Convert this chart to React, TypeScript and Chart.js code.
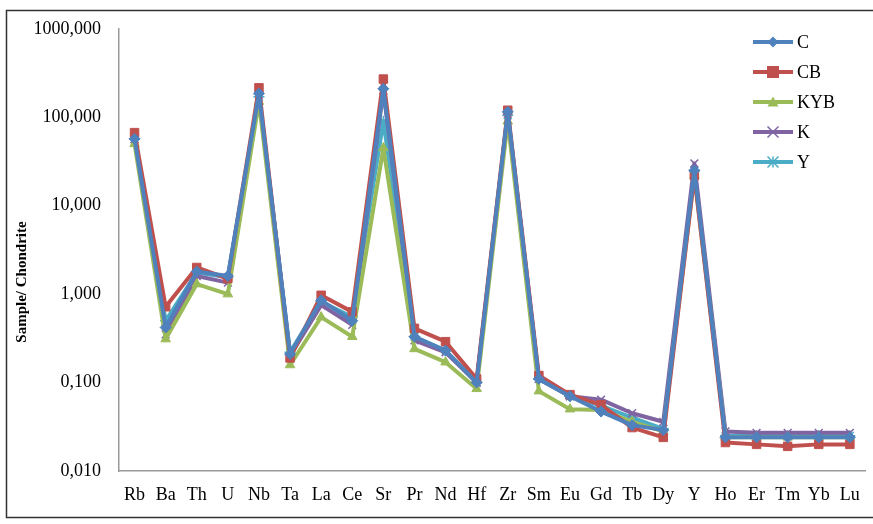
import React, { useEffect, useRef } from "react";
import { Chart, registerables } from "chart.js";

Chart.register(...registerables);

const categories = ["Rb","Ba","Th","U","Nb","Ta","La","Ce","Sr","Pr","Nd","Hf","Zr","Sm","Eu","Gd","Tb","Dy","Y","Ho","Er","Tm","Yb","Lu"];

const seriesC   = [57, 0.42, 1.8, 1.6, 185, 0.21, 0.85, 0.5, 210, 0.33, 0.23, 0.1, 115, 0.11, 0.07, 0.047, 0.033, 0.029, 25, 0.024, 0.024, 0.024, 0.024, 0.024];
const seriesCB  = [67, 0.72, 2.0, 1.5, 215, 0.19, 0.97, 0.63, 270, 0.41, 0.29, 0.11, 120, 0.12, 0.073, 0.056, 0.031, 0.024, 22, 0.021, 0.02, 0.019, 0.02, 0.02];
const seriesKYB = [50, 0.31, 1.3, 1.0, 150, 0.158, 0.55, 0.33, 45, 0.24, 0.17, 0.085, 90, 0.08, 0.05, 0.049, 0.036, 0.028, 22, 0.024, 0.024, 0.024, 0.024, 0.024];
const seriesK   = [56, 0.35, 1.6, 1.35, 180, 0.2, 0.75, 0.45, 200, 0.3, 0.22, 0.1, 110, 0.11, 0.07, 0.064, 0.045, 0.036, 30, 0.028, 0.027, 0.027, 0.027, 0.027];
const seriesY   = [57, 0.5, 1.75, 1.55, 170, 0.22, 0.82, 0.55, 90, 0.33, 0.23, 0.1, 105, 0.11, 0.07, 0.055, 0.04, 0.03, 25, 0.025, 0.025, 0.025, 0.025, 0.025];

const yTicks = [0.01, 0.1, 1, 10, 100, 1000];

const seriesNames = ["C", "CB", "KYB", "K", "Y"];
const seriesColors = ["#4F81BD", "#C0504D", "#9BBB59", "#8064A2", "#4BACC6"];
const seriesStyles = ["rectRot", "rect", "triangle", "crossRot", "star"];
const seriesData = [seriesC, seriesCB, seriesKYB, seriesK, seriesY];

const yTitle = "Sample/ Chondrite";

const FONT = "'Liberation Serif', 'Times New Roman', serif";

function fmt(v: number): string {
  return v.toFixed(3).replace(".", ",");
}

function drawMarker(ctx: CanvasRenderingContext2D, style: string, x: number, y: number, r: number, color: string) {
  ctx.save();
  ctx.fillStyle = color;
  ctx.strokeStyle = color;
  ctx.lineWidth = 1.5;
  ctx.beginPath();
  if (style === "rectRot") {
    ctx.moveTo(x, y - r); ctx.lineTo(x + r, y); ctx.lineTo(x, y + r); ctx.lineTo(x - r, y); ctx.closePath(); ctx.fill();
  } else if (style === "rect") {
    ctx.rect(x - r, y - r, 2 * r, 2 * r); ctx.fill();
  } else if (style === "triangle") {
    ctx.moveTo(x, y - r); ctx.lineTo(x + r, y + r * 0.8); ctx.lineTo(x - r, y + r * 0.8); ctx.closePath(); ctx.fill();
  } else if (style === "crossRot") {
    ctx.moveTo(x - r, y - r); ctx.lineTo(x + r, y + r); ctx.moveTo(x + r, y - r); ctx.lineTo(x - r, y + r); ctx.stroke();
  } else if (style === "star") {
    ctx.moveTo(x - r, y - r); ctx.lineTo(x + r, y + r); ctx.moveTo(x + r, y - r); ctx.lineTo(x - r, y + r);
    ctx.moveTo(x, y - r); ctx.lineTo(x, y + r); ctx.stroke();
  }
  ctx.restore();
}

const framePlugin = {
  id: "frame",
  beforeDraw(chart: any) {
    const ctx = chart.ctx;
    ctx.save();
    ctx.fillStyle = "#ffffff";
    ctx.fillRect(0, 0, chart.width, chart.height);
    ctx.strokeStyle = "#333333";
    ctx.lineWidth = 1.5;
    ctx.strokeRect(6.5, 10.5, 900, 507);
    ctx.translate(22, 282);
    ctx.rotate(-Math.PI / 2);
    ctx.fillStyle = "#000";
    ctx.font = `bold 15px ${FONT}`;
    ctx.textAlign = "center";
    ctx.textBaseline = "middle";
    ctx.fillText(yTitle, 0, 0);
    ctx.restore();
  },
  afterDraw(chart: any) {
    const ctx = chart.ctx;
    ctx.save();
    const x0 = 753, x1 = 793;
    const ys = [42, 72, 102, 132, 162];
    for (let i = 0; i < seriesNames.length; i++) {
      const y = ys[i];
      ctx.strokeStyle = seriesColors[i];
      ctx.lineWidth = 4;
      ctx.beginPath();
      ctx.moveTo(x0, y); ctx.lineTo(x1, y); ctx.stroke();
      drawMarker(ctx, seriesStyles[i], (x0 + x1) / 2, y, i === 1 ? 6 : 5.5, seriesColors[i]);
      ctx.fillStyle = "#000";
      ctx.font = `18px ${FONT}`;
      ctx.textAlign = "left";
      ctx.textBaseline = "middle";
      ctx.fillText(seriesNames[i], 797, y + 1);
    }
    ctx.restore();
  },
};

export default function App() {
  const ref = useRef<HTMLCanvasElement | null>(null);
  useEffect(() => {
    document.body.style.margin = "0";
    const canvas = ref.current!;
    const chart = new Chart(canvas, {
      type: "line",
      data: {
        labels: categories,
        datasets: seriesData.map((d, i) => ({
          label: seriesNames[i],
          data: d,
          borderColor: seriesColors[i],
          backgroundColor: seriesColors[i],
          borderWidth: 4,
          borderJoinStyle: "round",
          borderCapStyle: "round",
          pointStyle: seriesStyles[i] as any,
          pointRadius: i === 1 ? 6 : 5.5,
          pointBorderWidth: i >= 3 ? 1.5 : 1,
          pointBorderColor: seriesColors[i],
          pointBackgroundColor: seriesColors[i],
          tension: 0,
          fill: false,
        })),
      },
      options: {
        responsive: false,
        animation: false,
        layout: { padding: { top: 28, right: 2, left: 0, bottom: 0 } },
        plugins: { legend: { display: false }, tooltip: { enabled: false } },
        scales: {
          x: {
            type: "category",
            offset: true,
            grid: { display: false, drawTicks: false },
            border: { display: true, color: "#999999", width: 1.5 },
            ticks: { color: "#000", font: { family: FONT, size: 18 }, padding: 13, maxRotation: 0, autoSkip: false },
            afterFit(scale: any) { scale.height = 53; },
          },
          y: {
            type: "logarithmic",
            min: 0.01,
            max: 1000,
            grid: { display: false, drawTicks: false },
            border: { display: true, color: "#999999", width: 1.5 },
            afterBuildTicks(scale: any) { scale.ticks = yTicks.map((v) => ({ value: v })); },
            ticks: {
              color: "#000",
              font: { family: FONT, size: 18 },
              padding: 18,
              callback: (v: any) => fmt(Number(v)),
            },
            afterFit(scale: any) { scale.width = 119; },
          },
        },
      },
      plugins: [framePlugin],
    } as any);
    return () => chart.destroy();
  }, []);
  return (
    <div style={{ width: 873, height: 524 }}>
      <canvas ref={ref} width={873} height={524} style={{ display: "block" }} />
    </div>
  );
}
